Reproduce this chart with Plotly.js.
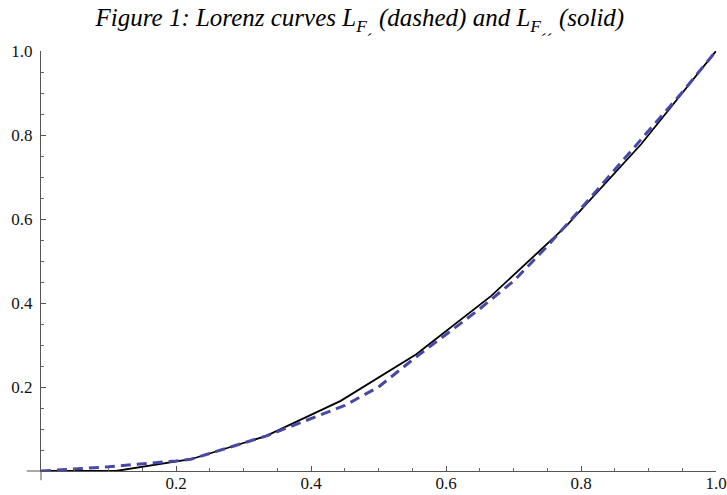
<!DOCTYPE html>
<html>
<head>
<meta charset="utf-8">
<script src="https://cdn.plot.ly/plotly-3.0.1.min.js"></script>
<style>html,body{margin:0;padding:0;background:#fff;}#chart{width:727px;height:495px;}</style>
</head>
<body>
<div id="chart"></div>
<script>
// Population share (x) and income share (y)
const solidX = [0, 0.111, 0.222, 0.333, 0.444, 0.556, 0.667, 0.778, 0.889, 1.0];
const solidY = [0, 0, 0.028, 0.083, 0.167, 0.278, 0.417, 0.583, 0.778, 1.0];

const dashedX = [0, 0.1, 0.2, 0.222, 0.333, 0.4, 0.45, 0.5, 0.556, 0.6, 0.65, 0.7, 0.75, 0.8, 0.85, 0.9, 0.95, 1.0];
const dashedY = [0, 0.010, 0.024, 0.028, 0.083, 0.124, 0.156, 0.200, 0.272, 0.325, 0.386, 0.452, 0.535, 0.625, 0.718, 0.81, 0.902, 1.0];

const tickVals = [0.2, 0.4, 0.6, 0.8, 1.0];
const tickText = ["0.2", "0.4", "0.6", "0.8", "1.0"];
const minorVals = [0.05, 0.1, 0.15, 0.25, 0.3, 0.35, 0.45, 0.5, 0.55, 0.65, 0.7, 0.75, 0.85, 0.9, 0.95];

const SERIF = 'Liberation Serif';

const traces = [
  {x: solidX, y: solidY, type: 'scatter', mode: 'lines',
   line: {color: '#000000', width: 1.8}, hoverinfo: 'skip', cliponaxis: false},
  {x: dashedX, y: dashedY, type: 'scatter', mode: 'lines',
   line: {color: '#4848a6', width: 3, dash: '10px,6px'}, hoverinfo: 'skip', cliponaxis: false}
];

const layout = {
  width: 727, height: 495,
  margin: {l: 41, r: 11, t: 51, b: 24},
  font: {family: SERIF, size: 17, color: '#111111'},
  paper_bgcolor: '#ffffff', plot_bgcolor: '#ffffff',
  showlegend: false,
  title: {
    text: '<i>Figure 1: Lorenz curves L<sub>F\u02CF</sub> (dashed) and L<sub>F\u02CF\u02CF</sub> (solid)</i>',
    font: {family: SERIF, size: 25, color: '#000000'},
    x: 0.495, xanchor: 'center', y: 0.982, yanchor: 'top'
  },
  xaxis: {
    range: [0, 1], showgrid: false, zeroline: false, showline: true,
    linecolor: '#555555', linewidth: 1,
    ticks: 'inside', ticklen: 5, tickwidth: 1, tickcolor: '#555555',
    tickmode: 'array', tickvals: tickVals, ticktext: tickText,
    tickfont: {family: SERIF, size: 17, color: '#111111'},
    ticklabeloverflow: 'allow', ticklabelstandoff: -3,
    minor: {tickmode: 'array', tickvals: minorVals, ticks: 'inside', ticklen: 3, tickwidth: 1, tickcolor: '#666666', showgrid: false}
  },
  yaxis: {
    range: [0, 1], showgrid: false, zeroline: false, showline: true,
    linecolor: '#555555', linewidth: 1,
    ticks: 'inside', ticklen: 5, tickwidth: 1, tickcolor: '#555555',
    tickmode: 'array', tickvals: tickVals, ticktext: tickText,
    tickfont: {family: SERIF, size: 17, color: '#111111'},
    ticklabeloverflow: 'allow', ticklabelstandoff: 4,
    minor: {tickmode: 'array', tickvals: minorVals, ticks: 'inside', ticklen: 3, tickwidth: 1, tickcolor: '#666666', showgrid: false}
  },
  shapes: [
    {type: 'line', xref: 'paper', yref: 'paper', x0: -0.021, x1: 0, y0: 0, y1: 0, line: {color: '#555555', width: 1}},
    {type: 'line', xref: 'paper', yref: 'paper', x0: 0, x1: 0, y0: -0.022, y1: 0, line: {color: '#555555', width: 1}}
  ]
};

Plotly.newPlot('chart', traces, layout, {displayModeBar: false, staticPlot: true});
</script>
</body>
</html>
